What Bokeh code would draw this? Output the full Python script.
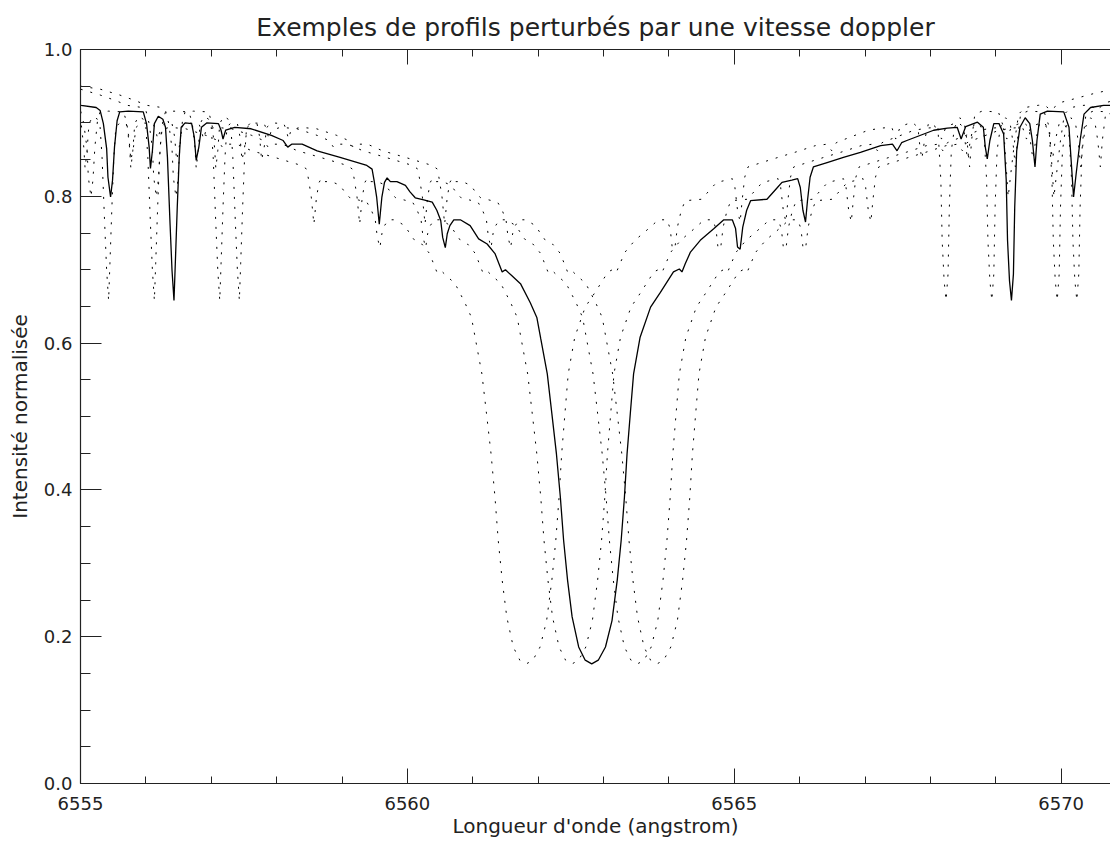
from bokeh.plotting import figure
from bokeh.models import LinearAxis, Range1d, FixedTicker, PrintfTickFormatter, CustomLabelingPolicy
from bokeh.embed import file_html
from bokeh.resources import INLINE

# Reference (unshifted) profile: wavelength (angstrom) and normalised intensity
wavelength = [
    6554.00, 6554.30, 6554.60, 6554.85, 6555.01, 6555.24, 6555.30, 6555.35, 6555.40, 6555.42,
    6555.46, 6555.49, 6555.52, 6555.56, 6555.60, 6555.73, 6555.96, 6556.01, 6556.05, 6556.07,
    6556.10, 6556.13, 6556.19, 6556.26, 6556.30, 6556.33, 6556.37, 6556.40, 6556.43, 6556.45,
    6556.48, 6556.51, 6556.54, 6556.60, 6556.70, 6556.74, 6556.77, 6556.81, 6556.85, 6556.93,
    6557.11, 6557.15, 6557.18, 6557.22, 6557.36, 6557.61, 6557.92, 6558.10, 6558.17, 6558.23,
    6558.39, 6558.62, 6558.97, 6559.38, 6559.46, 6559.49, 6559.53, 6559.57, 6559.61, 6559.65,
    6559.69, 6559.74, 6559.84, 6559.97, 6560.04, 6560.12, 6560.25, 6560.38, 6560.45, 6560.51,
    6560.54, 6560.58, 6560.61, 6560.65, 6560.71, 6560.81, 6560.96, 6561.09, 6561.22, 6561.34,
    6561.41, 6561.45, 6561.50, 6561.57, 6561.73, 6561.88, 6561.98, 6562.04, 6562.14, 6562.21,
    6562.28, 6562.34, 6562.39, 6562.45, 6562.52, 6562.62, 6562.72, 6562.82, 6562.92, 6563.03,
    6563.13, 6563.21, 6563.27, 6563.32, 6563.36, 6563.41, 6563.46, 6563.56, 6563.72, 6563.87,
    6564.07, 6564.16, 6564.20, 6564.25, 6564.33, 6564.48, 6564.69, 6564.84, 6564.97, 6565.02,
    6565.05, 6565.09, 6565.13, 6565.19, 6565.25, 6565.50, 6565.64, 6565.73, 6565.88, 6565.97,
    6566.01, 6566.05, 6566.09, 6566.12, 6566.16, 6566.21, 6566.42, 6566.67, 6566.93, 6567.24,
    6567.42, 6567.49, 6567.56, 6567.64, 6568.05, 6568.26, 6568.41, 6568.47, 6568.54, 6568.72,
    6568.81, 6568.84, 6568.87, 6568.91, 6568.97, 6569.05, 6569.12, 6569.16, 6569.18, 6569.21,
    6569.24, 6569.27, 6569.29, 6569.32, 6569.37, 6569.45, 6569.52, 6569.56, 6569.60, 6569.63,
    6569.68, 6569.79, 6570.04, 6570.12, 6570.15, 6570.19, 6570.23, 6570.29, 6570.35, 6570.45,
    6570.65, 6570.76, 6570.83, 6571.00, 6571.50, 6572.00,
]
intensity = [
    0.950, 0.946, 0.938, 0.930, 0.924, 0.921, 0.917, 0.899, 0.865, 0.826,
    0.799, 0.822, 0.867, 0.903, 0.915, 0.916, 0.915, 0.899, 0.867, 0.838,
    0.862, 0.899, 0.909, 0.905, 0.894, 0.853, 0.762, 0.699, 0.658, 0.708,
    0.785, 0.853, 0.894, 0.900, 0.899, 0.881, 0.849, 0.867, 0.894, 0.900,
    0.899, 0.890, 0.878, 0.890, 0.894, 0.892, 0.883, 0.876, 0.867, 0.871,
    0.871, 0.862, 0.853, 0.842, 0.837, 0.822, 0.799, 0.762, 0.799, 0.819,
    0.825, 0.820, 0.820, 0.815, 0.806, 0.798, 0.795, 0.792, 0.781, 0.767,
    0.744, 0.730, 0.749, 0.760, 0.768, 0.768, 0.760, 0.742, 0.735, 0.722,
    0.706, 0.697, 0.700, 0.694, 0.681, 0.655, 0.635, 0.606, 0.558, 0.504,
    0.449, 0.390, 0.331, 0.277, 0.227, 0.186, 0.168, 0.163, 0.168, 0.186,
    0.222, 0.277, 0.331, 0.390, 0.449, 0.504, 0.558, 0.608, 0.649, 0.669,
    0.697, 0.701, 0.697, 0.708, 0.724, 0.740, 0.756, 0.768, 0.768, 0.756,
    0.731, 0.728, 0.758, 0.781, 0.794, 0.796, 0.810, 0.819, 0.822, 0.824,
    0.812, 0.781, 0.765, 0.794, 0.826, 0.840, 0.846, 0.853, 0.860, 0.869,
    0.871, 0.862, 0.873, 0.876, 0.890, 0.893, 0.894, 0.878, 0.895, 0.901,
    0.894, 0.867, 0.851, 0.876, 0.899, 0.899, 0.885, 0.822, 0.740, 0.685,
    0.658, 0.694, 0.785, 0.862, 0.894, 0.907, 0.899, 0.876, 0.840, 0.876,
    0.912, 0.916, 0.915, 0.894, 0.853, 0.799, 0.831, 0.876, 0.912, 0.921,
    0.924, 0.924, 0.917, 0.928, 0.940, 0.950,
]

# Doppler shifts (angstrom) of the dotted copies
doppler_shifts = [-1.0, -0.3, 0.7, 1.0]

x_major_ticks = [6555, 6560, 6565, 6570]
x_minor_ticks = list(range(6555, 6572))
y_major_ticks = [0.0, 0.2, 0.4, 0.6, 0.8, 1.0]
y_minor_ticks = [i * 0.05 for i in range(21)]

FONT = "DejaVu Sans"
INK = "#222222"

p = figure(
    width=1110, height=856,
    output_backend="svg", toolbar_location=None,
    x_range=Range1d(6555, 6570.755), y_range=Range1d(0.0, 1.0),
    min_border_left=80, min_border_right=0, min_border_top=49, min_border_bottom=73,
    title="Exemples de profils perturbés par une vitesse doppler",
)
p.background_fill_color = "white"
p.border_fill_color = "white"
p.outline_line_color = None
p.grid.visible = False

p.title.align = "center"
p.title.text_font = FONT
p.title.text_font_style = "normal"
p.title.text_font_size = "25px"
p.title.text_color = INK
p.title.standoff = 15

for s in doppler_shifts:
    xs = [w + s for w in wavelength]
    p.line(xs, intensity, line_color="black", line_width=1.0, line_dash="2 8")

p.line(wavelength, intensity, line_color="black", line_width=1.3)

xa = p.xaxis[0]
xa.ticker = FixedTicker(ticks=x_major_ticks, minor_ticks=x_minor_ticks)
xa.axis_label = "Longueur d'onde (angstrom)"
ya = p.yaxis[0]
ya.ticker = FixedTicker(ticks=y_major_ticks, minor_ticks=y_minor_ticks)
ya.axis_label = "Intensité normalisée"
ya.formatter = PrintfTickFormatter(format="%.1f")

for ax in (xa, ya):
    ax.axis_line_color = INK
    ax.axis_line_width = 1.2
    ax.major_tick_line_color = INK
    ax.minor_tick_line_color = INK
    ax.major_tick_out = 0
    ax.minor_tick_out = 0
    ax.major_label_text_font = FONT
    ax.major_label_text_font_size = "18px"
    ax.major_label_text_color = INK
    ax.axis_label_text_font = FONT
    ax.axis_label_text_font_size = "20px"
    ax.axis_label_text_font_style = "normal"
    ax.axis_label_text_color = INK

xa.major_tick_in = 15
xa.minor_tick_in = 7
xa.major_label_standoff = 13
xa.axis_label_standoff = 1
ya.major_tick_in = 21
ya.minor_tick_in = 10
ya.major_label_standoff = 8
ya.axis_label_standoff = 9

top = LinearAxis(
    ticker=FixedTicker(ticks=x_major_ticks, minor_ticks=x_minor_ticks),
    major_label_policy=CustomLabelingPolicy(code="return []"),
    major_label_text_font_size="0px", major_tick_out=0, minor_tick_out=0,
    major_tick_in=15, minor_tick_in=7, axis_line_color=INK, axis_line_width=1.2,
    major_tick_line_color=INK, minor_tick_line_color=INK,
    major_label_standoff=0,
)
p.add_layout(top, "above")

open("out.html", "w").write(file_html(p, INLINE))
